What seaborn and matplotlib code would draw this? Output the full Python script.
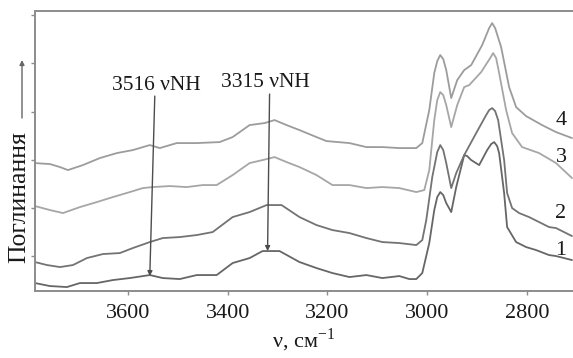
import seaborn as sns
import matplotlib.pyplot as plt
import pandas as pd

# IR spectra (wavenumber, absorbance in arbitrary units)
wn1 = [3786, 3756, 3722, 3696, 3662, 3630, 3596, 3556, 3530, 3496, 3462, 3422, 3390, 3356, 3330,
       3296, 3256, 3222, 3190, 3156, 3122, 3090, 3056, 3036, 3022, 3010, 2996, 2986, 2980, 2974,
       2968, 2962, 2952, 2942, 2926, 2920, 2912, 2896, 2880, 2872, 2866, 2860, 2856, 2846, 2840,
       2822, 2802, 2782, 2756, 2742, 2710]
ab1 = [0.08, 0.05, 0.04, 0.08, 0.08, 0.11, 0.13, 0.16, 0.13, 0.12, 0.16, 0.16, 0.28, 0.33, 0.40,
       0.40, 0.29, 0.23, 0.18, 0.14, 0.16, 0.13, 0.15, 0.12, 0.12, 0.18, 0.48, 0.81, 0.94, 0.99,
       0.96, 0.88, 0.79, 1.04, 1.36, 1.35, 1.31, 1.26, 1.41, 1.47, 1.49, 1.45, 1.38, 0.98, 0.64,
       0.49, 0.44, 0.41, 0.36, 0.35, 0.31]

wn2 = [3786, 3762, 3736, 3710, 3682, 3650, 3616, 3590, 3556, 3530, 3496, 3462, 3430, 3390, 3356,
       3322, 3292, 3256, 3222, 3190, 3156, 3122, 3090, 3056, 3022, 3010, 3002, 2990, 2980, 2974,
       2968, 2962, 2952, 2942, 2926, 2902, 2882, 2876, 2870, 2864, 2858, 2846, 2840, 2830, 2816,
       2796, 2756, 2742, 2710]
ab2 = [0.29, 0.26, 0.24, 0.26, 0.33, 0.37, 0.38, 0.43, 0.49, 0.53, 0.54, 0.56, 0.59, 0.74, 0.79,
       0.86, 0.86, 0.74, 0.66, 0.61, 0.58, 0.53, 0.49, 0.48, 0.46, 0.51, 0.71, 1.14, 1.39, 1.46,
       1.41, 1.28, 1.03, 1.18, 1.36, 1.58, 1.76, 1.81, 1.83, 1.80, 1.71, 1.31, 0.98, 0.83, 0.78,
       0.74, 0.64, 0.63, 0.55]

wn3 = [3786, 3756, 3730, 3696, 3662, 3630, 3596, 3570, 3550, 3516, 3482, 3450, 3422, 3390, 3356,
       3330, 3306, 3282, 3256, 3222, 3190, 3156, 3122, 3090, 3056, 3022, 3006, 2996, 2986, 2980,
       2974, 2968, 2962, 2952, 2940, 2926, 2916, 2892, 2874, 2868, 2862, 2856, 2842, 2830, 2810,
       2776, 2742, 2710]
ab3 = [0.85, 0.81, 0.78, 0.84, 0.89, 0.94, 0.99, 1.03, 1.04, 1.05, 1.04, 1.06, 1.06, 1.16, 1.28,
       1.31, 1.34, 1.29, 1.24, 1.16, 1.06, 1.06, 1.03, 1.04, 1.03, 0.99, 1.01, 1.21, 1.71, 1.91,
       1.99, 1.96, 1.86, 1.64, 1.86, 2.04, 2.06, 2.19, 2.33, 2.38, 2.33, 2.18, 1.81, 1.58, 1.44,
       1.38, 1.28, 1.13]

wn4 = [3786, 3756, 3736, 3720, 3690, 3656, 3622, 3590, 3556, 3536, 3502, 3462, 3416, 3390, 3356,
       3326, 3306, 3282, 3256, 3222, 3202, 3156, 3122, 3090, 3056, 3022, 3010, 2996, 2986, 2980,
       2974, 2968, 2962, 2952, 2940, 2926, 2912, 2890, 2876, 2870, 2864, 2852, 2836, 2822, 2802,
       2770, 2742, 2710]
ab4 = [1.28, 1.27, 1.24, 1.21, 1.26, 1.33, 1.38, 1.41, 1.46, 1.43, 1.48, 1.48, 1.49, 1.54, 1.66,
       1.68, 1.71, 1.66, 1.61, 1.54, 1.50, 1.48, 1.44, 1.44, 1.43, 1.43, 1.48, 1.81, 2.18, 2.30,
       2.36, 2.32, 2.21, 1.93, 2.11, 2.21, 2.26, 2.46, 2.63, 2.68, 2.63, 2.44, 2.04, 1.84, 1.75,
       1.66, 1.59, 1.53]

curve_names = ['1', '2', '3', '4']
curve_colors = ['#666666', '#737373', '#a6a6a6', '#9c9c9c']
label_y = [0.41, 0.78, 1.34, 1.71]

df = pd.concat([
    pd.DataFrame({'wn': w, 'A': a, 'curve': n})
    for w, a, n in zip([wn1, wn2, wn3, wn4], [ab1, ab2, ab3, ab4], curve_names)
])

sns.set_theme(style='ticks')
plt.rcParams['font.family'] = ['Liberation Serif', 'DejaVu Serif']
plt.rcParams['mathtext.fontset'] = 'custom'
plt.rcParams['mathtext.rm'] = 'Liberation Serif'

fig = plt.figure(figsize=(5.73, 3.58), dpi=100)
ax = fig.add_axes([0.0611, 0.187, 0.9389, 0.782])

sns.lineplot(data=df, x='wn', y='A', hue='curve', palette=dict(zip(curve_names, curve_colors)),
             estimator=None, sort=True, legend=False, linewidth=1.3, ax=ax)

ax.set_xlim(3786, 2708)
ax.set_ylim(0, 2.8)
ax.set_xticks([3600, 3400, 3200, 3000, 2800])
ax.set_yticks([0.35, 0.83, 1.31, 1.79, 2.28, 2.76])
ax.set_yticklabels([])
ax.tick_params(axis='both', length=3, width=1, color='#8c8c8c', labelsize=16, pad=6, labelcolor='#1a1a1a')

for side in ['left', 'bottom', 'top']:
    ax.spines[side].set_color('#8c8c8c')
    ax.spines[side].set_linewidth(1.4)
ax.spines['right'].set_visible(False)

ax.set_ylabel('')
ax.set_xlabel('ν, см$^{\\mathregular{-1}}$', fontsize=16, color='#1a1a1a', labelpad=3)

# curve numbers on the right
for name, yy in zip(curve_names, label_y):
    ax.text(2732, yy, name, fontsize=16, ha='center', va='center', color='#1a1a1a')

# band annotations
arrow = dict(arrowstyle='-|>', color='#4d4d4d', lw=1.0, mutation_scale=7, shrinkA=0, shrinkB=0)
ax.annotate('', xy=(3556, 0.15), xytext=(3546, 1.95), arrowprops=arrow)
ax.text(3542, 2.01, '3516 νNH', fontsize=15.5, ha='center', va='baseline', color='#1a1a1a')
ax.annotate('', xy=(3320, 0.40), xytext=(3316, 1.97), arrowprops=arrow)
ax.text(3324, 2.04, '3315 νNH', fontsize=15.5, ha='center', va='baseline', color='#1a1a1a')

# y label with arrow pointing up
fig.text(19 / 573, 1 - 197 / 358, 'Поглинання', rotation=90, fontsize=18.5,
         ha='center', va='center', color='#1a1a1a')
ax.annotate('', xy=(22 / 573, 1 - 60 / 358), xytext=(22 / 573, 1 - 118 / 358),
            xycoords='figure fraction', textcoords='figure fraction',
            arrowprops=dict(arrowstyle='-|>', color='#666666', lw=1.0, mutation_scale=7,
                            shrinkA=0, shrinkB=0))

fig.savefig('out.png', dpi=100)
